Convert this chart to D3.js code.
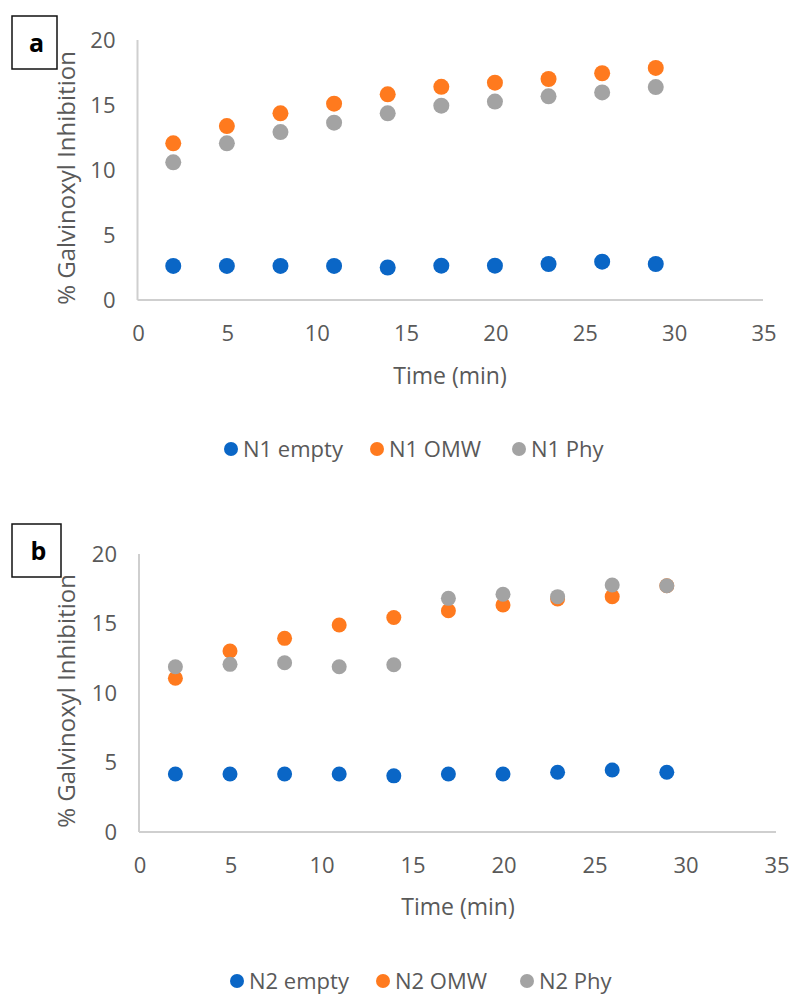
<!DOCTYPE html>
<html>
<head>
<meta charset="utf-8">
<script src="https://cdn.jsdelivr.net/npm/d3@7"></script>
<style>
  body { margin: 0; background: #fff; }
  text { font-family: 'Open Sans', 'Liberation Sans', sans-serif; }
</style>
</head>
<body>
<div id="chart"></div>
<script>
// sampling times (min)
let times = [2, 5, 8, 11, 14, 17, 20, 23, 26, 29]

// panel a
let n1Empty = [2.62, 2.62, 2.62, 2.62, 2.5, 2.64, 2.64, 2.77, 2.95, 2.77]
let n1OMW = [12.05, 13.38, 14.36, 15.1, 15.82, 16.4, 16.72, 17.0, 17.44, 17.85]
let n1Phy = [10.59, 12.05, 12.92, 13.64, 14.36, 14.95, 15.26, 15.67, 15.97, 16.38]

// panel b
let n2Empty = [4.17, 4.17, 4.17, 4.17, 4.04, 4.17, 4.17, 4.3, 4.46, 4.3]
let n2OMW = [11.06, 13.02, 13.93, 14.89, 15.43, 15.92, 16.33, 16.76, 16.93, 17.72]
let n2Phy = [11.89, 12.06, 12.18, 11.89, 12.03, 16.81, 17.1, 16.93, 17.77, 17.72]

let xTicks = [0, 5, 10, 15, 20, 25, 30, 35]
let yTicks = [0, 5, 10, 15, 20]
let colors = ['#0a66c6', '#ff7a1e', '#a3a3a3']

let svg = d3
  .select('#chart')
  .append('svg')
  .attr('width', 792)
  .attr('height', 994)

function drawPanel(p) {
  let x = d3.scaleLinear().domain([0, 35]).range([p.left, p.right])
  let y = d3.scaleLinear().domain([0, 20]).range([p.bottom, p.top])
  let g = svg.append('g')

  // axis lines
  g.append('line')
    .attr('x1', x(0)).attr('x2', x(0))
    .attr('y1', y(20)).attr('y2', y(0))
    .attr('stroke', '#cfcfcf').attr('stroke-width', 2)
  g.append('line')
    .attr('x1', x(0)).attr('x2', x(35))
    .attr('y1', y(0)).attr('y2', y(0))
    .attr('stroke', '#cfcfcf').attr('stroke-width', 2)

  g.selectAll('.ytick')
    .data(yTicks)
    .enter()
    .append('text')
    .attr('class', 'ytick')
    .attr('x', x(0) - 22)
    .attr('y', d => y(d))
    .attr('dy', '0.36em')
    .attr('text-anchor', 'end')
    .attr('font-size', 22)
    .attr('fill', '#595959')
    .text(d => d)

  g.selectAll('.xtick')
    .data(xTicks)
    .enter()
    .append('text')
    .attr('class', 'xtick')
    .attr('x', d => x(d) + 1)
    .attr('y', y(0) + p.tickGap)
    .attr('dy', '0.36em')
    .attr('text-anchor', 'middle')
    .attr('font-size', 22)
    .attr('fill', '#595959')
    .text(d => d)

  g.append('text')
    .attr('transform', 'translate(' + p.titleX + ',' + ((p.top + p.bottom) / 2 + 8) + ') rotate(-90)')
    .attr('dy', '0.36em')
    .attr('text-anchor', 'middle')
    .attr('font-size', 24)
    .attr('fill', '#595959')
    .text('% Galvinoxyl Inhibition')

  g.append('text')
    .attr('x', p.xTitleX)
    .attr('y', p.xTitleY)
    .attr('dy', '0.36em')
    .attr('text-anchor', 'middle')
    .attr('font-size', 23)
    .attr('fill', '#595959')
    .text('Time (min)')

  // series, drawn in Excel order so the last one sits on top
  p.series.forEach((s, i) => {
    g.selectAll('.dot-' + i)
      .data(s.values)
      .enter()
      .append('circle')
      .attr('class', 'dot-' + i)
      .attr('cx', (d, j) => x(times[j]))
      .attr('cy', d => y(d))
      .attr('r', p.r)
      .attr('fill', colors[i])
  })

  // panel letter box
  g.append('rect')
    .attr('x', p.box[0]).attr('y', p.box[1])
    .attr('width', p.box[2]).attr('height', p.box[3])
    .attr('fill', '#fff')
    .attr('stroke', '#111').attr('stroke-width', 1.5)
  g.append('text')
    .attr('x', p.box[0] + p.box[2] / 2 + 2)
    .attr('y', p.box[1] + p.box[3] / 2)
    .attr('dy', '0.36em')
    .attr('text-anchor', 'middle')
    .attr('font-size', 25)
    .attr('font-weight', 'bold')
    .attr('fill', '#000')
    .text(p.letter)

  // legend
  let lg = g.selectAll('.legend')
    .data(p.series)
    .enter()
    .append('g')
    .attr('transform', (d, i) => 'translate(' + p.legendX[i] + ',' + p.legendY + ')')
  lg.append('circle')
    .attr('r', 7)
    .attr('fill', (d, i) => colors[i])
  lg.append('text')
    .attr('x', 12)
    .attr('dy', '0.36em')
    .attr('font-size', 22)
    .attr('fill', '#595959')
    .text(d => d.name)
}

drawPanel({
  left: 137.5, right: 763, top: 40, bottom: 300,
  tickGap: 33, titleX: 66, xTitleX: 450, xTitleY: 376, r: 8,
  box: [12, 16, 45, 53], letter: 'a',
  legendX: [231, 377, 519], legendY: 449,
  series: [
    { name: 'N1 empty', values: n1Empty },
    { name: 'N1 OMW', values: n1OMW },
    { name: 'N1 Phy', values: n1Phy }
  ]
})

drawPanel({
  left: 139, right: 776, top: 554, bottom: 832,
  tickGap: 33, titleX: 66, xTitleX: 458, xTitleY: 907, r: 7.5,
  box: [12, 524, 49, 53], letter: 'b',
  legendX: [237, 383, 527], legendY: 981,
  series: [
    { name: 'N2 empty', values: n2Empty },
    { name: 'N2 OMW', values: n2OMW },
    { name: 'N2 Phy', values: n2Phy }
  ]
})
</script>
</body>
</html>
